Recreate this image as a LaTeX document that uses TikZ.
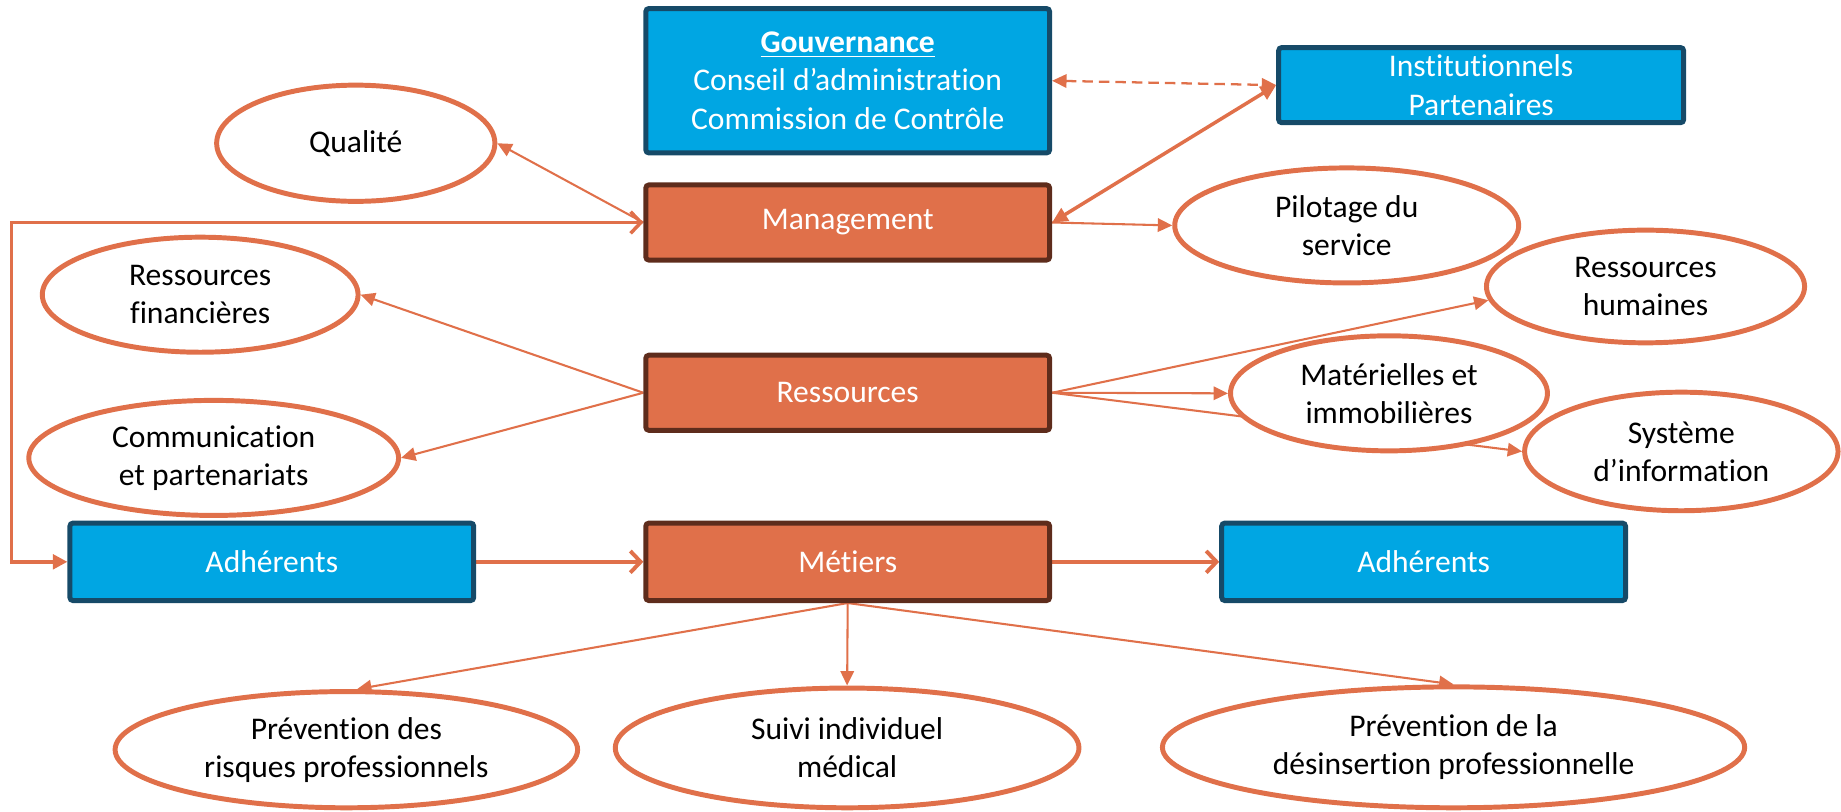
\documentclass[tikz,border=0pt]{standalone}
\usepackage{fontspec}
\setmainfont{Carlito}[Ligatures=NoCommon]
\usetikzlibrary{shapes.geometric,arrows.meta,backgrounds}
\definecolor{orln}{RGB}{224,112,74}
\definecolor{orfill}{RGB}{224,112,74}
\definecolor{brdark}{RGB}{94,44,28}
\definecolor{bluefill}{RGB}{0,166,227}
\definecolor{bluedark}{RGB}{22,74,104}
\begin{document}
\begin{tikzpicture}[x=0.02cm,y=-0.02cm,
  every node/.style={font=\fontsize{15.3}{18.5}\selectfont, align=center, inner sep=0pt},
  boxbase/.style={line width=2.4pt, rounded corners=1.5pt, text=white, minimum width=6.88cm, minimum height=1.28cm},
  bluebox/.style={boxbase, draw=bluedark, fill=bluefill},
  orbox/.style={boxbase, draw=brdark, fill=orfill},
  oval/.style={ellipse, draw=orln, fill=white, line width=2.4pt, text=black},
  thinarr/.style={draw=orln, line width=1pt, -{Triangle[length=7pt,width=6.5pt]}},
  thickarr/.style={draw=orln, line width=1.9pt, -{Straight Barb[length=5pt,width=10.5pt,line width=1.9pt]}},
  duoarr/.style={draw=orln, line width=1.7pt, {Triangle[length=7.5pt,width=7pt]}-{Triangle[length=7.5pt,width=7pt]}},
  dasharr/.style={draw=orln, line width=1.1pt, dash pattern=on 5pt off 3pt, {Triangle[length=7pt,width=6.5pt]}-{Triangle[length=7pt,width=6.5pt]}},
  loopline/.style={draw=orln, line width=1.7pt, {Straight Barb[length=5pt,width=10.5pt,line width=1.7pt]}-{Triangle[length=7pt,width=7pt]}}
]
\useasboundingbox (0,0) rectangle (1568,691);

% boxes
\node[bluebox, minimum height=2.46cm] (gouv) at (722,68.75) {\underline{\textbf{Gouvernance}}\\Conseil d’administration\\Commission de Contrôle};
\node[bluebox, minimum width=6.9cm] (inst) at (1261.5,72.5) {Institutionnels\\Partenaires};
\node[orbox] (mgmt) at (722,189.5) {Management};
\node[orbox] (res) at (722,334.5) {Ressources};
\node[orbox, minimum height=1.32cm] (met) at (722,478.5) {Métiers};
\node[bluebox, minimum height=1.32cm] (adhL) at (231.5,478.5) {Adhérents};
\node[bluebox, minimum height=1.32cm] (adhR) at (1212.5,478.5) {Adhérents};

% ellipses
\node[oval, minimum width=4.74cm, minimum height=1.98cm] (qual) at (303,122) {Qualité};
\node[oval, minimum width=5.86cm, minimum height=1.96cm] (pil) at (1147,192) {Pilotage du\\service};
\node[oval, minimum width=5.38cm, minimum height=1.96cm] (rf) at (170.5,251) {Ressources\\financières};
\node[oval, minimum width=6.30cm, minimum height=1.96cm] (comm) at (182,390) {Communication\\et partenariats};
\node[oval, minimum width=5.42cm, minimum height=1.92cm] (rh) at (1401.5,244) {Ressources\\humaines};
\node[oval, minimum width=5.40cm, minimum height=1.96cm] (mat) at (1183,335) {Matérielles et\\immobilières};
\node[oval, minimum width=5.34cm, minimum height=2.02cm] (sys) at (1432,384.5) {Système\\d’information};
\node[oval, minimum width=7.88cm, minimum height=1.98cm] (pr) at (295,638.5) {Prévention des\\risques professionnels};
\node[oval, minimum width=7.90cm, minimum height=2.04cm] (suivi) at (721.5,637) {Suivi individuel\\médical};
\node[oval, minimum width=9.92cm, minimum height=2.06cm] (des) at (1238,636.5) {Prévention de la\\désinsertion professionnelle};

\coordinate (lp) at (10,300);

\begin{pgfonlayer}{background}
\draw[dasharr] (gouv.east) -- (inst.west);
\draw[duoarr] (mgmt.east) -- (inst.west);
\draw[thinarr] (mgmt.west) -- (qual.east);
\draw[thinarr] (mgmt.east) -- (pil.west);
\draw[loopline] (mgmt.west) -- (mgmt.west -| lp) |- (adhL.west);
\draw[thinarr] (res.west) -- (rf.east);
\draw[thinarr] (res.west) -- (comm.east);
\draw[thinarr] (res.east) -- (rh.185);
\draw[thinarr] (res.east) -- (mat.west);
\draw[thinarr] (res.east) -- (sys.west);
\draw[thickarr] (adhL.east) -- (met.west);
\draw[thickarr] (met.east) -- (adhR.west);
\draw[thinarr] (met.south) -- (pr.80);
\draw[thinarr] (met.south) -- (suivi.north);
\draw[thinarr] (met.south) -- (des.north);
\end{pgfonlayer}
\end{tikzpicture}
\end{document}
